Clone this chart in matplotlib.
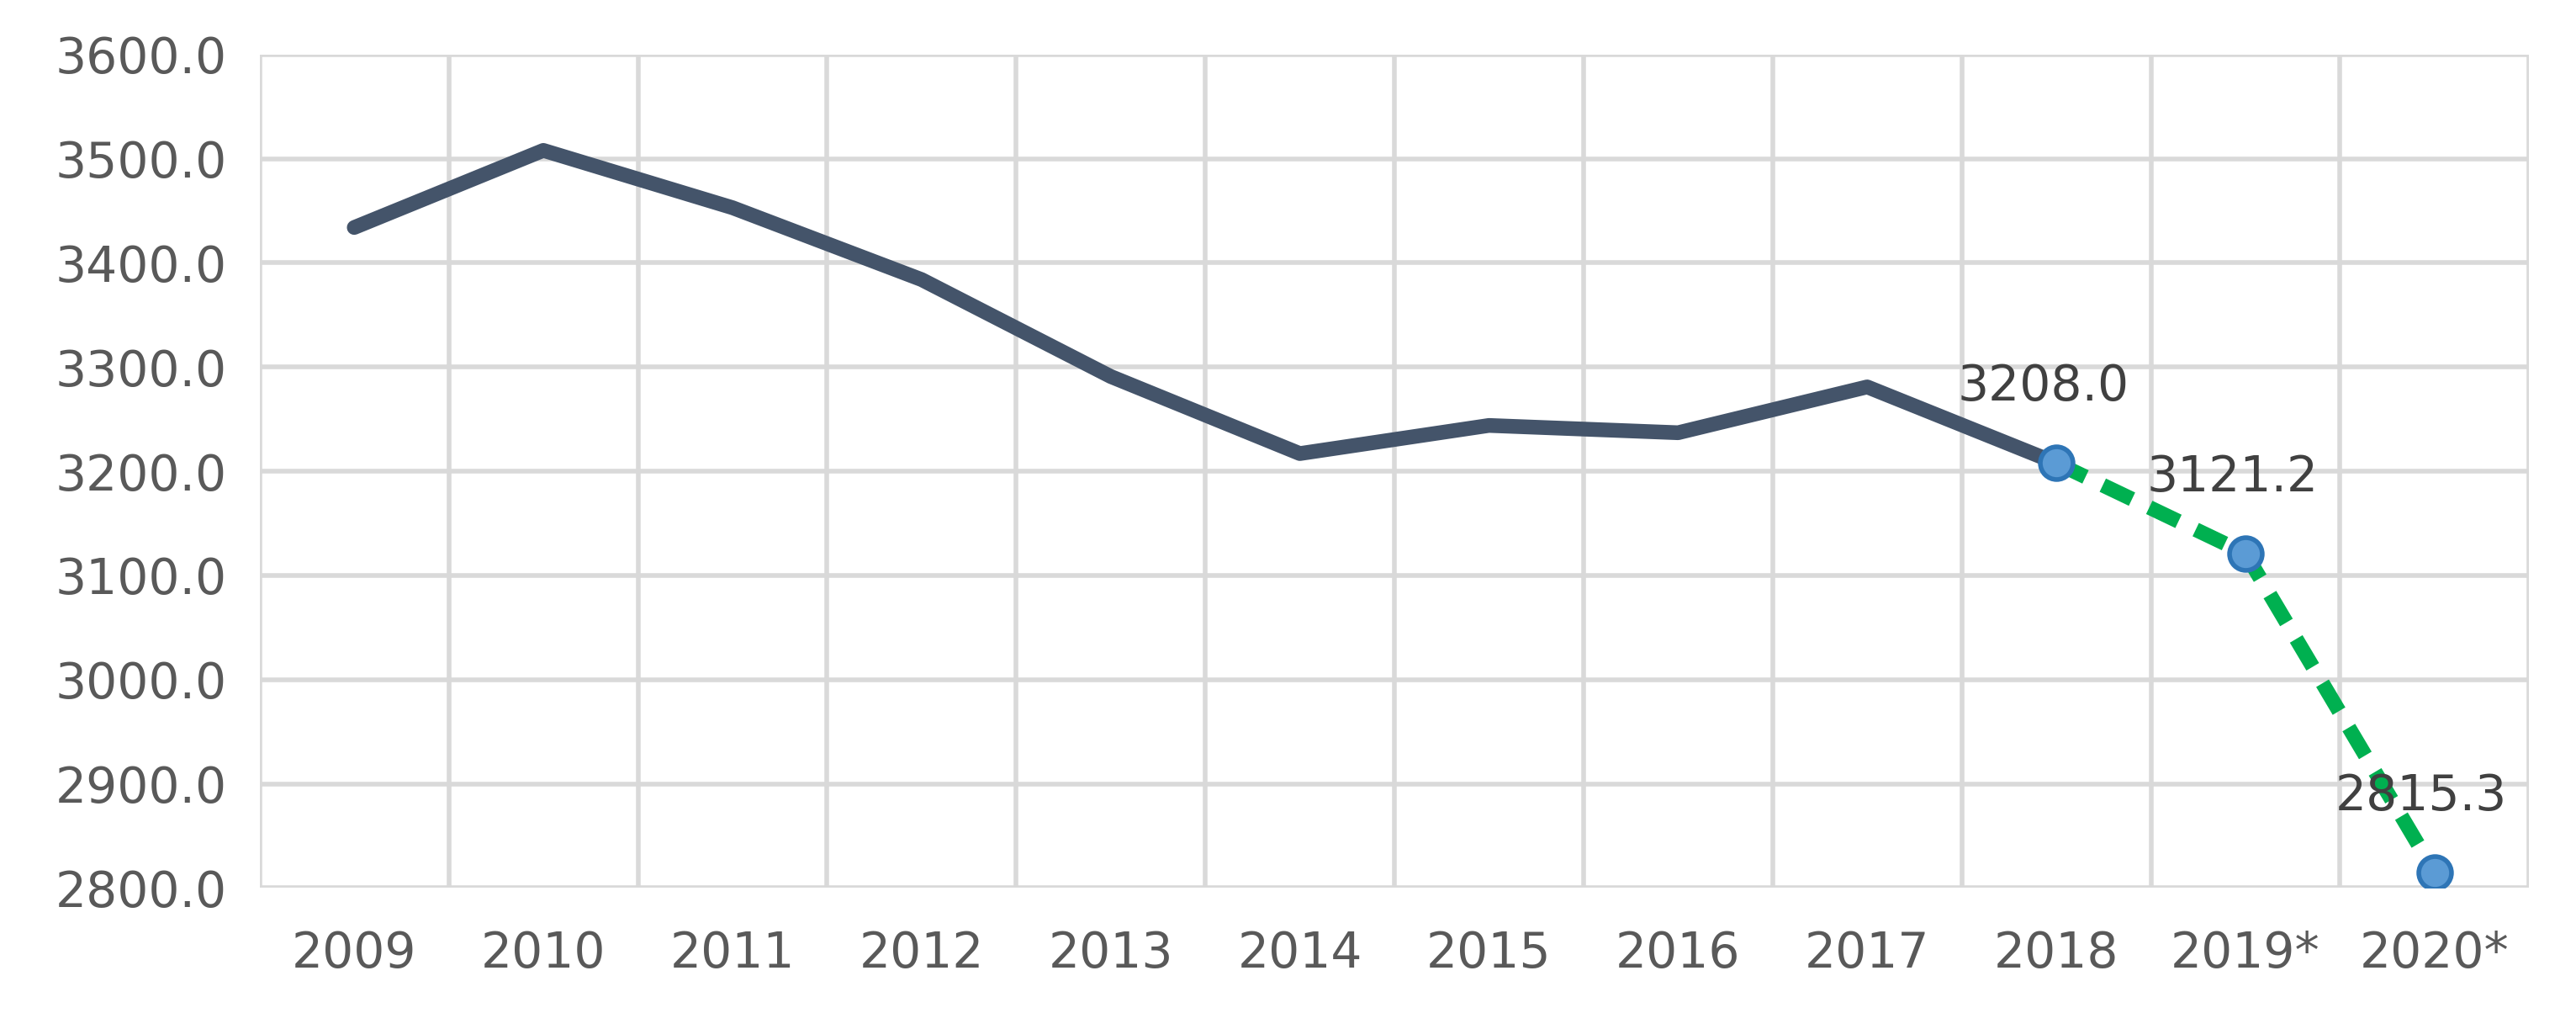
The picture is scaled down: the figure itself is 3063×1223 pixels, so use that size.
import matplotlib
matplotlib.use("Agg")
import matplotlib.pyplot as plt
import numpy as np

years = ["2009", "2010", "2011", "2012", "2013", "2014", "2015", "2016",
         "2017", "2018", "2019*", "2020*"]
actual = [3434, 3508, 3453, 3384, 3291, 3217, 3244, 3237, 3281, 3208.0]
forecast_years = ["2018", "2019*", "2020*"]
forecast = [3208.0, 3121.2, 2815.3]

TEXT_C = "#595959"
GRID_C = "#D9D9D9"

fig = plt.figure(figsize=(15.315, 6.115), dpi=200)
ax = fig.add_axes([0.1008, 0.137, 0.881, 0.81])

x_all = np.arange(len(years))
x_act = x_all[:len(actual)]
x_fc = [years.index(y) for y in forecast_years]

ax.plot(x_act, actual, color="#44546A", lw=6.3, solid_capstyle="round", zorder=3)
ax.plot(x_fc, forecast, color="#00B050", lw=6.3, ls=(0, (2.2, 1.3)), zorder=4)
ax.plot(x_fc, forecast, ls="none", marker="o", ms=14, mfc="#5B9BD5",
        mec="#2E75B6", mew=2, zorder=5)

for x, v in zip(x_fc, forecast):
    ax.annotate(f"{v:.1f}", (x, v), xytext=(-0.05, 0.11), textcoords=("offset fontsize"),
                fontsize=1)  # placeholder removed below
for t in list(ax.texts):
    t.remove()
for x, v in zip(x_fc, forecast):
    ax.text(x - 0.07, v + 50, f"{v:.1f}", fontsize=21, color="#404040",
            ha="center", va="bottom", zorder=6)

ax.set_xlim(-0.5, len(years) - 0.5)
ax.set_ylim(2800, 3600)
ax.set_yticks(np.arange(2800, 3601, 100))
ax.set_yticklabels([f"{v:.1f}" for v in np.arange(2800, 3601, 100)])
ax.set_xticks(x_all)
ax.set_xticklabels(years)
ax.set_xticks(np.arange(-0.5, len(years), 1), minor=True)

ax.grid(axis="y", which="major", color=GRID_C, lw=2)
ax.grid(axis="x", which="minor", color=GRID_C, lw=2)
ax.grid(axis="x", which="major", visible=False)
for s in ax.spines.values():
    s.set_visible(False)
ax.tick_params(which="both", length=0, labelsize=21, colors=TEXT_C)
ax.tick_params(axis="x", pad=18)
ax.tick_params(axis="y", pad=14)
ax.set_axisbelow(True)

fig.savefig("out.png", dpi=200)
